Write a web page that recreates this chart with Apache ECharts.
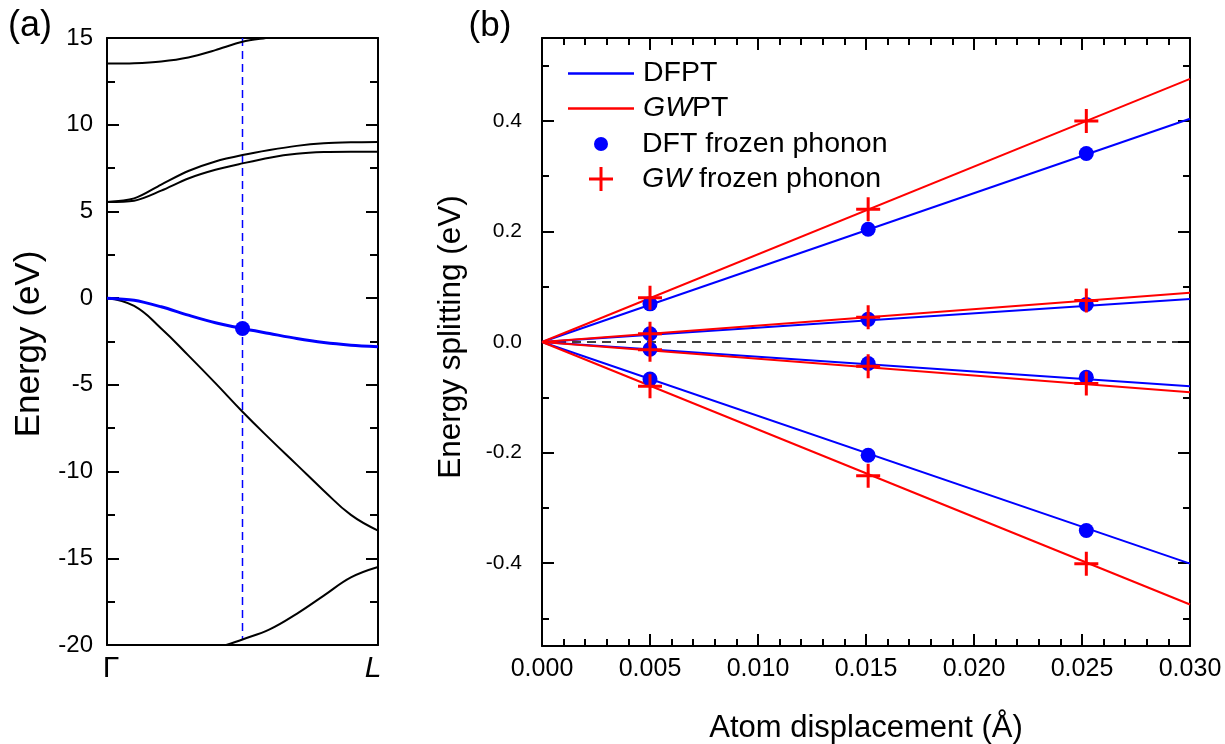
<!DOCTYPE html>
<html>
<head>
<meta charset="utf-8">
<script src="https://cdn.jsdelivr.net/npm/echarts@6/dist/echarts.min.js"></script>
<style>html,body{margin:0;padding:0;background:#fff}#c{width:1225px;height:744px}</style>
</head>
<body>
<div id="c"></div>
<script>
// ---------- Panel (a): band structure along Γ -> L ----------
const kPath = [0, 0.1, 0.2, 0.3, 0.4, 0.5, 0.6, 0.7, 0.8, 0.9, 1.0];
const bandValenceBlue = [0, -0.12, -0.5, -0.98, -1.42, -1.75, -2.04, -2.33, -2.56, -2.71, -2.8];
const bandValenceLow = [0, -0.45, -1.75, -3.3, -4.9, -6.55, -8.1, -9.6, -11.1, -12.5, -13.4];
const bandCondUpper = [5.55, 5.75, 6.55, 7.33, 7.88, 8.25, 8.54, 8.78, 8.93, 8.99, 9.01];
const bandCondLower = [5.55, 5.62, 6.2, 6.9, 7.4, 7.77, 8.1, 8.32, 8.42, 8.44, 8.44];
const kTop = [0, 0.1, 0.2, 0.3, 0.4, 0.5, 0.6, 0.7];
const bandTop = [13.53, 13.55, 13.65, 13.88, 14.3, 14.78, 15.03, 15.3];
const kBottom = [0.44, 0.5, 0.6, 0.7, 0.8, 0.9, 1.0];
const bandBottom = [-20.0, -19.68, -19.1, -18.2, -17.15, -16.1, -15.5];
const kCut = 0.5;
const cutEnergyTop = 15;
const cutEnergyBottom = -19.68;
const markerPoint = [0.5, -1.75];
const energyRange = [-20, 15];

// ---------- Panel (b): energy splitting vs displacement ----------
const displacement = [0.005, 0.0151, 0.0252];
const dftFrozen = [
  [0.069, 0.204, 0.341],
  [0.015, 0.041, 0.068],
  [-0.013, -0.039, -0.064],
  [-0.067, -0.205, -0.341]
];
const gwFrozen = [
  [0.080, 0.240, 0.400],
  [0.015, 0.045, 0.075],
  [-0.014, -0.044, -0.075],
  [-0.080, -0.242, -0.401]
];
const lineEndX = 0.03;
const dfptEnd = [0.404, 0.078, -0.080, -0.401];
const gwptEnd = [0.476, 0.089, -0.091, -0.475];
const splitMajorTicks = [-0.4, -0.2, 0, 0.2, 0.4];
const splitMinorTicks = [-0.5, -0.3, -0.1, 0.1, 0.3, 0.5];

const FONT = 'Liberation Sans, Arial, Helvetica, sans-serif';
const BLUE = '#0000ff', RED = '#ff0000';
const PLUS = 'path://M7,0h2v7h7v2h-7v7h-2v-7h-7v-2h7z';

const zip = (xs, ys) => xs.map((x, i) => [x, ys[i]]);

const chart = echarts.init(document.getElementById('c'), null, {renderer: 'canvas'});

const tickStyle = {color: '#000', width: 2};
const lineAxis = {show: true, onZero: false, lineStyle: {color: '#000', width: 2}};

function bandSeries(xs, ys, color, width, smooth) {
  return {
    type: 'line', xAxisIndex: 0, yAxisIndex: 0, data: zip(xs, ys),
    smooth: smooth || 0.3, symbol: 'none', clip: true,
    lineStyle: {color: color, width: width}, z: 3, silent: true
  };
}

const series = [
  {
    type: 'line', xAxisIndex: 0, yAxisIndex: 0,
    data: [[kCut, cutEnergyTop], [kCut, cutEnergyBottom]],
    symbol: 'none', lineStyle: {color: BLUE, width: 1.5, type: [8, 5]}, z: 2, silent: true
  },
  bandSeries(kTop, bandTop, '#000', 2),
  bandSeries(kPath, bandCondUpper, '#000', 2),
  bandSeries(kPath, bandCondLower, '#000', 2),
  bandSeries(kPath, bandValenceLow, '#000', 2, 0.45),
  bandSeries(kBottom, bandBottom, '#000', 2, 0.4),
  bandSeries(kPath, bandValenceBlue, BLUE, 3),
  {
    type: 'scatter', xAxisIndex: 0, yAxisIndex: 0, data: [markerPoint],
    symbol: 'circle', symbolSize: 15, itemStyle: {color: BLUE, opacity: 1}, z: 5, silent: true
  },
  {
    type: 'line', xAxisIndex: 1, yAxisIndex: 2,
    data: [[0, 0], [lineEndX, 0]], symbol: 'none',
    lineStyle: {color: '#000', width: 1.5, type: [9, 6]}, z: 1, silent: true
  }
];

dfptEnd.forEach(v => series.push({
  name: 'DFPT', type: 'line', xAxisIndex: 1, yAxisIndex: 2,
  data: [[0, 0], [lineEndX, v]], symbol: 'none',
  lineStyle: {color: BLUE, width: 2}, itemStyle: {color: BLUE}, z: 2, silent: true
}));
gwptEnd.forEach(v => series.push({
  name: 'GWPT', type: 'line', xAxisIndex: 1, yAxisIndex: 2,
  data: [[0, 0], [lineEndX, v]], symbol: 'none',
  lineStyle: {color: RED, width: 2}, itemStyle: {color: RED}, z: 2, silent: true
}));
series.push({
  name: 'DFT frozen phonon', type: 'scatter', xAxisIndex: 1, yAxisIndex: 2,
  data: dftFrozen.flatMap(row => zip(displacement, row)),
  symbol: 'circle', symbolSize: 15, itemStyle: {color: BLUE, opacity: 1}, z: 4, silent: true
});
series.push({
  name: 'GW frozen phonon', type: 'scatter', xAxisIndex: 1, yAxisIndex: 2,
  data: gwFrozen.flatMap(row => zip(displacement, row)),
  symbol: PLUS, symbolSize: 24, itemStyle: {color: RED, opacity: 1}, z: 5, silent: true
});

function legendText(padLeft) {
  return {
    color: '#000', fontSize: 28.5, fontFamily: FONT, lineHeight: 30, padding: [0, 0, 0, padLeft],
    rich: {i: {fontStyle: 'italic', fontSize: 28.5, fontFamily: FONT, color: '#000', lineHeight: 30}}
  };
}
function legendItem(name, left, top, icon, w, h, padLeft, formatter) {
  return {
    data: [name], left: left, top: top, orient: 'vertical', padding: 0,
    itemWidth: w, itemHeight: h, icon: icon, selectedMode: false,
    itemStyle: {opacity: 1},
    textStyle: legendText(padLeft), formatter: formatter || '{name}'
  };
}

const option = {
  animation: false,
  backgroundColor: '#fff',
  grid: [
    {left: 107, top: 38, width: 271, height: 607},
    {left: 542, top: 38, width: 648, height: 608}
  ],
  xAxis: [
    {
      gridIndex: 0, type: 'value', min: 0, max: 1, position: 'bottom',
      axisLine: lineAxis, axisTick: {show: false}, splitLine: {show: false},
      axisLabel: {
        customValues: [0, 1], margin: 9,
        formatter: v => (v === 0 ? '{g|Γ}' : '{l|L}'),
        rich: {
          g: {fontSize: 30, fontFamily: FONT, color: '#000', padding: [0, 0, 0, 8]},
          l: {fontSize: 30, fontFamily: FONT, color: '#000', fontStyle: 'italic', padding: [0, 10, 0, 0]}
        }
      }
    },
    {
      gridIndex: 1, type: 'value', min: 0, max: 0.03, interval: 0.005, position: 'bottom',
      axisLine: lineAxis,
      axisTick: {show: true, inside: true, length: 12, lineStyle: tickStyle},
      minorTick: {show: true, splitNumber: 5, length: 7, lineStyle: tickStyle},
      splitLine: {show: false},
      axisLabel: {fontSize: 25, fontFamily: FONT, color: '#000', margin: 11, formatter: v => v.toFixed(3)}
    },
    {
      gridIndex: 1, type: 'value', min: 0, max: 0.03, interval: 0.005, position: 'top',
      axisLine: lineAxis,
      axisTick: {show: true, inside: true, length: 12, lineStyle: tickStyle},
      minorTick: {show: true, splitNumber: 5, length: 7, lineStyle: tickStyle},
      splitLine: {show: false}, axisLabel: {show: false}
    },
    {
      gridIndex: 0, type: 'value', min: 0, max: 1, position: 'top',
      axisLine: lineAxis, axisTick: {show: false}, axisLabel: {show: false}, splitLine: {show: false}
    }
  ],
  yAxis: [
    {
      gridIndex: 0, type: 'value', min: energyRange[0], max: energyRange[1], interval: 5,
      position: 'left', axisLine: lineAxis,
      axisTick: {show: true, inside: true, length: 12, lineStyle: tickStyle},
      minorTick: {show: true, splitNumber: 2, length: 8, lineStyle: tickStyle},
      splitLine: {show: false},
      axisLabel: {fontSize: 24, fontFamily: FONT, color: '#000', margin: 14}
    },
    {
      gridIndex: 0, type: 'value', min: energyRange[0], max: energyRange[1], interval: 5,
      position: 'right', axisLine: lineAxis,
      axisTick: {show: true, inside: true, length: 12, lineStyle: tickStyle},
      minorTick: {show: true, splitNumber: 2, length: 8, lineStyle: tickStyle},
      splitLine: {show: false}, axisLabel: {show: false}
    },
    {
      gridIndex: 1, type: 'value', min: -0.55, max: 0.55, position: 'left',
      axisLine: lineAxis, splitLine: {show: false},
      axisTick: {show: true, inside: true, length: 12, lineStyle: tickStyle, customValues: splitMajorTicks},
      axisLabel: {fontSize: 21, fontFamily: FONT, color: '#000', margin: 20,
        customValues: splitMajorTicks, formatter: v => v.toFixed(1)}
    },
    {
      gridIndex: 1, type: 'value', min: -0.55, max: 0.55, position: 'left',
      axisLine: {show: false, onZero: false}, splitLine: {show: false},
      axisTick: {show: true, inside: true, length: 7, lineStyle: tickStyle, customValues: splitMinorTicks},
      axisLabel: {show: false, customValues: splitMinorTicks}
    },
    {
      gridIndex: 1, type: 'value', min: -0.55, max: 0.55, position: 'right',
      axisLine: lineAxis, splitLine: {show: false},
      axisTick: {show: true, inside: true, length: 12, lineStyle: tickStyle, customValues: splitMajorTicks},
      axisLabel: {show: false, customValues: splitMajorTicks}
    },
    {
      gridIndex: 1, type: 'value', min: -0.55, max: 0.55, position: 'right',
      axisLine: {show: false, onZero: false}, splitLine: {show: false},
      axisTick: {show: true, inside: true, length: 7, lineStyle: tickStyle, customValues: splitMinorTicks},
      axisLabel: {show: false, customValues: splitMinorTicks}
    }
  ],
  legend: [
    legendItem('DFPT', 568, 58.5, 'rect', 66, 2.5, 4),
    legendItem('GWPT', 568, 93.5, 'rect', 66, 2.5, 4, '{i|GW}PT'),
    legendItem('DFT frozen phonon', 594, 129, 'circle', 14, 14, 29),
    legendItem('GW frozen phonon', 589, 164, PLUS, 24, 24, 24, '{i|GW} frozen phonon')
  ],
  graphic: [
    {type: 'text', x: 30, y: 26, style: {text: '(a)', fontSize: 36, fontFamily: FONT, fill: '#000', align: 'center', verticalAlign: 'middle'}},
    {type: 'text', x: 490, y: 26, style: {text: '(b)', fontSize: 35, fontFamily: FONT, fill: '#000', align: 'center', verticalAlign: 'middle'}},
    {type: 'text', x: 29, y: 344, rotation: Math.PI / 2, style: {text: 'Energy (eV)', fontSize: 35, fontFamily: FONT, fill: '#000', align: 'center', verticalAlign: 'middle'}},
    {type: 'text', x: 451, y: 337, rotation: Math.PI / 2, style: {text: 'Energy splitting (eV)', fontSize: 31.5, fontFamily: FONT, fill: '#000', align: 'center', verticalAlign: 'middle'}},
    {type: 'text', x: 866, y: 728, style: {text: 'Atom displacement (Å)', fontSize: 31, fontFamily: FONT, fill: '#000', align: 'center', verticalAlign: 'middle'}}
  ],
  series: series
};
chart.setOption(option);
</script>
</body>
</html>
